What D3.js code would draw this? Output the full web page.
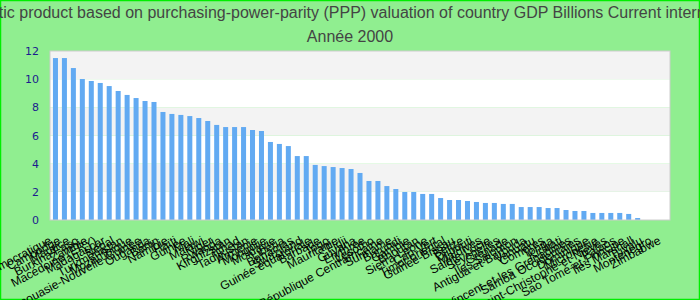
<!DOCTYPE html>
<html>
<head>
<meta charset="utf-8">
<script src="https://cdn.jsdelivr.net/npm/d3@7"></script>
<style>
  body { margin: 0; }
  svg { display: block; }
</style>
</head>
<body>
<div id="chart"></div>
<script>
// pays, dans l'ordre des barres
var countries = [
  'Congo, République démocratique', 'Cambodge', 'Maurice', 'Burkina Faso', 'Zambie',
  'Macédoine (ERY)', 'Madagascar', 'Népal', 'Turkménistan', 'Mozambique',
  'Papouasie-Nouvelle-Guinée', 'Ouganda', 'Bénin', 'Namibie', 'Haïti',
  'Guinée', 'Mali', 'Malawi', 'Niger', 'Rwanda',
  'Kirghizstan', 'Tchad', 'Tadjikistan', 'Arménie', 'Mongolie',
  'Moldavie', 'Libéria', 'Bahamas', 'Swaziland', 'Guinée équatoriale',
  'Barbade', 'Togo', 'Mauritanie', 'Fidji', 'Guyana',
  'Érythrée', 'Lesotho', 'République Centrafricaine', 'Suriname', 'Burundi',
  'Gambie', 'Bhoutan', 'Sierra Leone', 'Cap-Vert', 'Timor oriental',
  'Guinée-Bissau', 'Belize', 'Djibouti', 'Maldives', 'Sainte-Lucie',
  'Seychelles', 'Grenade', 'Îles Salomon', 'Antigua-et-Barbuda', 'Vanuatu',
  'Comores', 'Tonga', 'Kiribati', 'Saint-Vincent-et-les Grenadines', 'Samoa Occidentales',
  'Dominique', 'Micronésie', 'Saint-Christophe-et-Niévès', 'Palaos', 'Sao Tomé-et-Principe',
  'Îles Marshall', 'Tuvalu', 'Montenegro', 'Zimbabwe'
];

// PIB PPA, milliards
var values = [
  11.50, 11.50, 10.79, 10.01, 9.87, 9.73, 9.51, 9.16, 8.88, 8.66,
  8.45, 8.38, 7.67, 7.53, 7.46, 7.38, 7.24, 7.03, 6.75, 6.60,
  6.60, 6.60, 6.39, 6.32, 5.54, 5.40, 5.25, 4.54, 4.54, 3.91,
  3.83, 3.76, 3.69, 3.62, 3.34, 2.77, 2.77, 2.41, 2.20, 1.99,
  1.99, 1.85, 1.85, 1.56, 1.42, 1.42, 1.35, 1.28, 1.21, 1.21,
  1.14, 1.14, 0.92, 0.92, 0.92, 0.85, 0.85, 0.71, 0.64, 0.64,
  0.50, 0.50, 0.50, 0.50, 0.43, 0.14, 0, 0, 0
];

var yTicks = [0, 2, 4, 6, 8, 10, 12];

var title = 'Gross domestic product based on purchasing-power-parity (PPP) valuation of country GDP Billions Current international dollar';
var subtitle = 'Année 2000';

var width = 700;
var height = 300;
var margin = { top: 51, right: 30, bottom: 80, left: 50 };

var svg = d3.select('#chart')
  .append('svg')
  .attr('width', width)
  .attr('height', height);

// fond vert et bordure
svg.append('rect')
  .attr('x', 0.5).attr('y', 0.5)
  .attr('width', width - 1).attr('height', height - 1)
  .attr('fill', '#90ee90')
  .attr('stroke', '#00ee00')
  .attr('stroke-width', 1.5);

var x = d3.scaleBand()
  .domain(countries)
  .range([margin.left, width - margin.right])
  .paddingInner(0.44)
  .paddingOuter(0.33);

var y = d3.scaleLinear()
  .domain([0, 12])
  .range([height - margin.bottom, margin.top]);

// bandes alternées
var bands = d3.pairs(yTicks);
svg.selectAll('.band')
  .data(bands)
  .enter()
  .append('rect')
  .attr('class', 'band')
  .attr('x', margin.left)
  .attr('width', width - margin.left - margin.right)
  .attr('y', function(d) { return y(d[1]); })
  .attr('height', function(d) { return y(d[0]) - y(d[1]); })
  .attr('fill', function(d, i) { return i % 2 ? '#f3f3f3' : '#ffffff'; });

svg.selectAll('.bar')
  .data(values)
  .enter()
  .append('rect')
  .attr('class', 'bar')
  .attr('x', function(d, i) { return x(countries[i]); })
  .attr('width', x.bandwidth())
  .attr('y', function(d) { return y(d); })
  .attr('height', function(d) { return y(0) - y(d); })
  .attr('fill', '#62aaf2');

// cadre du graphique
svg.append('rect')
  .attr('x', margin.left)
  .attr('y', margin.top)
  .attr('width', width - margin.left - margin.right)
  .attr('height', y(0) - margin.top)
  .attr('fill', 'none')
  .attr('stroke', '#cccccc')
  .attr('stroke-width', 1);

// axe y
var yAxis = svg.append('g')
  .attr('transform', 'translate(' + (margin.left - 11) + ',0)')
  .call(d3.axisLeft(y).tickValues(yTicks).tickSize(0).tickPadding(0));
yAxis.select('.domain').remove();
yAxis.selectAll('text')
  .attr('fill', '#1c1c8e')
  .style('font-family', 'DejaVu Sans')
  .style('font-size', '11px');

// axe x, étiquettes inclinées
var xAxis = svg.append('g')
  .attr('transform', 'translate(0,' + y(0) + ')')
  .call(d3.axisBottom(x).tickSize(0).tickPadding(0));
xAxis.select('.domain').remove();
xAxis.selectAll('text')
  .attr('fill', '#000')
  .style('font-family', 'Liberation Sans, Arial, sans-serif')
  .style('font-size', '12px')
  .attr('text-anchor', 'end')
  .attr('dy', 0)
  .attr('y', 0)
  .attr('transform', 'translate(-3,23) rotate(-28)');

// titres
svg.append('text')
  .attr('x', width / 2)
  .attr('y', 18)
  .attr('text-anchor', 'middle')
  .attr('fill', '#444')
  .style('font-family', 'Liberation Sans, Arial, sans-serif')
  .style('font-size', '16px')
  .text(title);

svg.append('text')
  .attr('x', width / 2)
  .attr('y', 42)
  .attr('text-anchor', 'middle')
  .attr('fill', '#444')
  .style('font-family', 'Liberation Sans, Arial, sans-serif')
  .style('font-size', '16px')
  .text(subtitle);
</script>
</body>
</html>
